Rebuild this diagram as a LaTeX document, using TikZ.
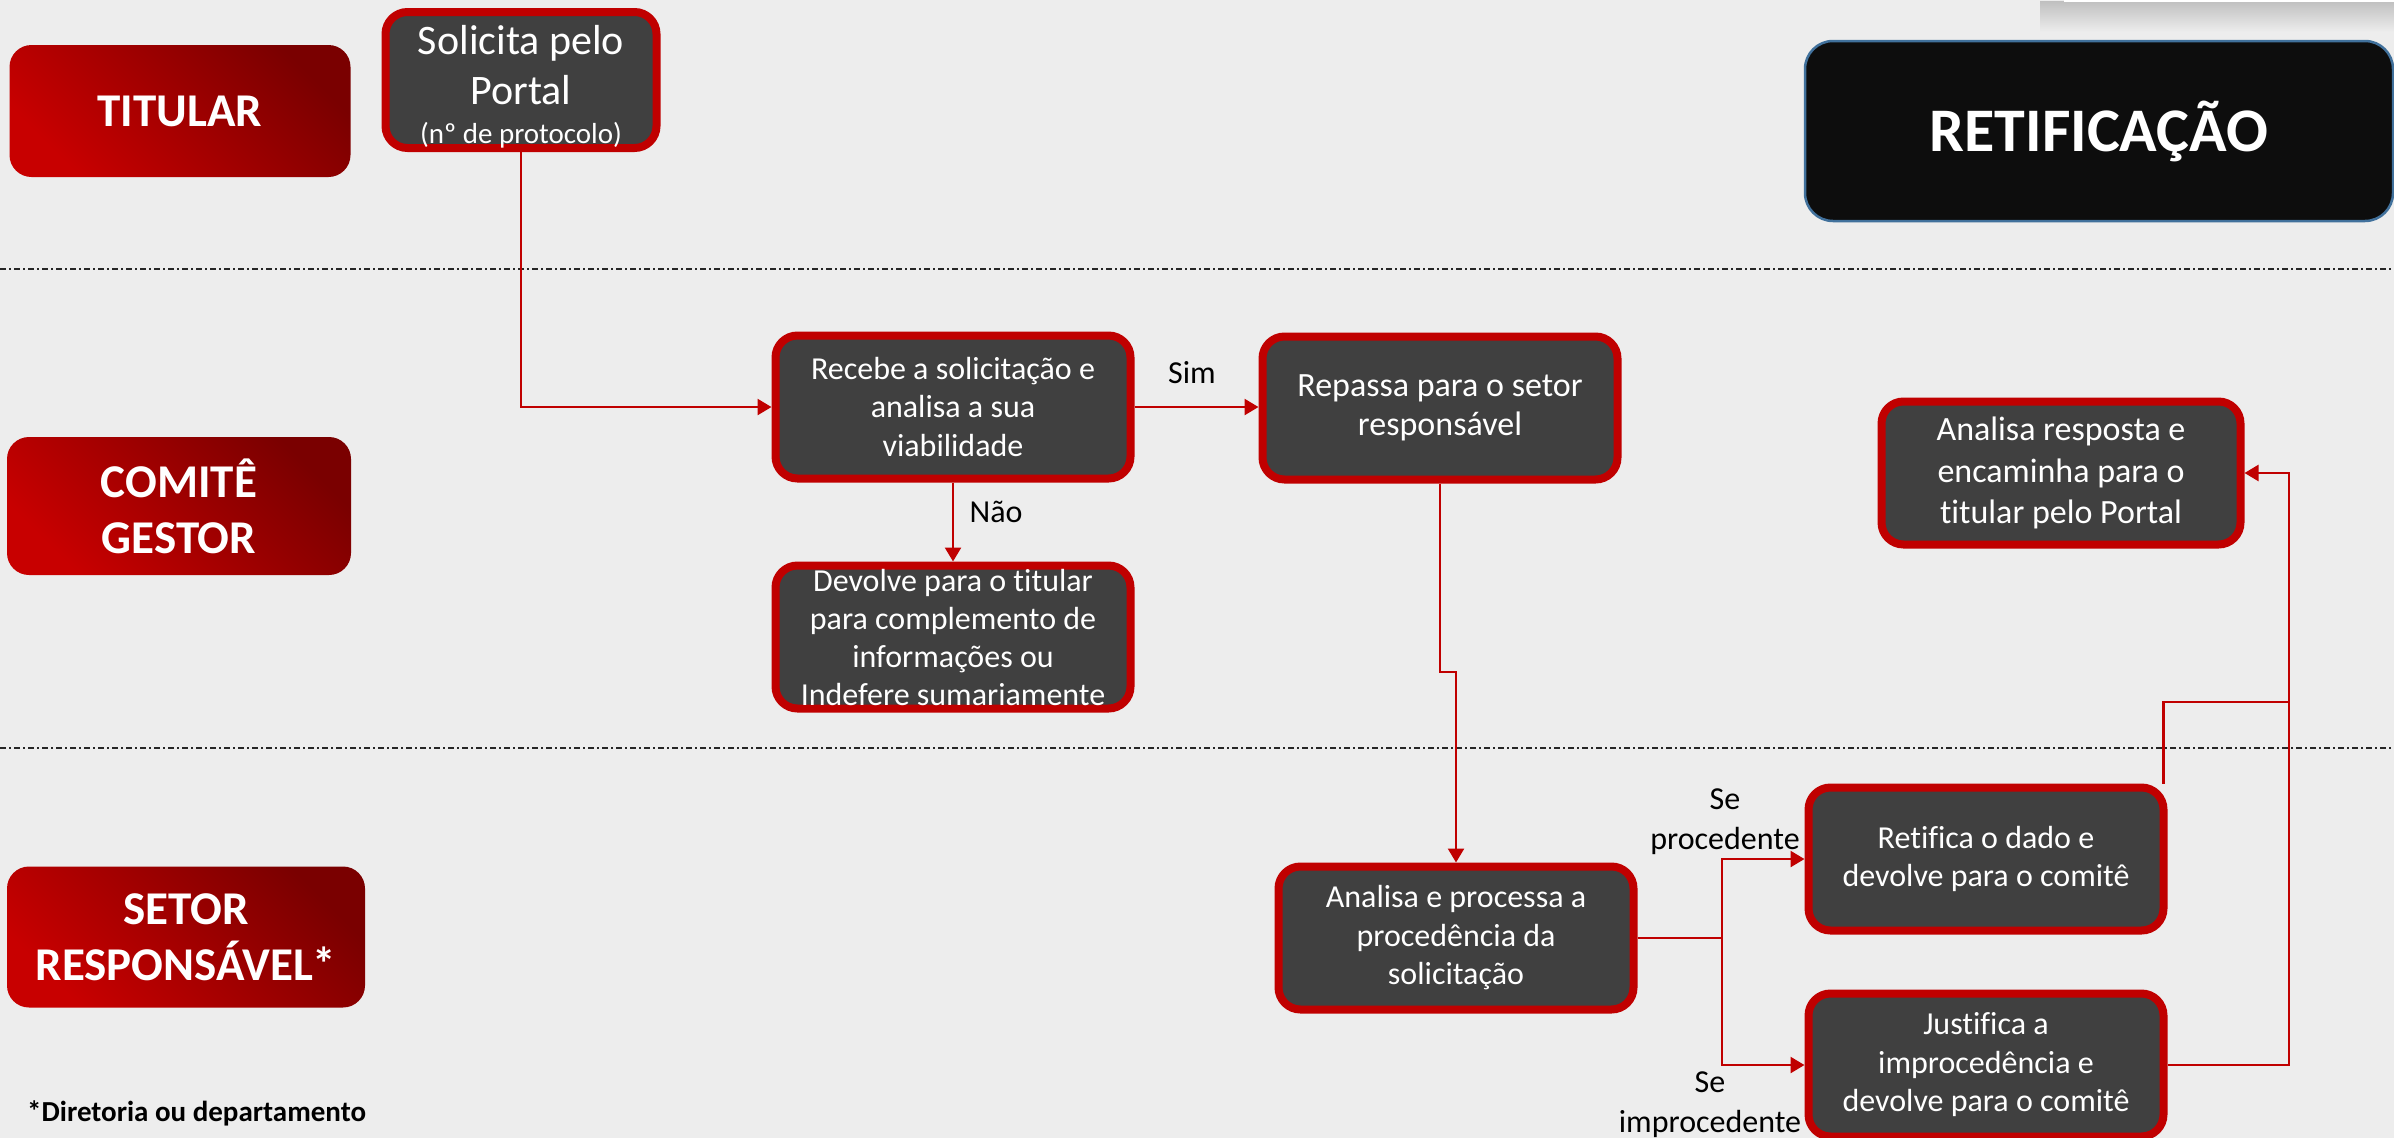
\documentclass[tikz,border=0pt]{standalone}
\usepackage{fontspec}
\setmainfont{Carlito}[Ligatures=NoCommon]
\usetikzlibrary{arrows.meta}
\definecolor{bg}{HTML}{EDEDED}
\definecolor{boxred}{HTML}{C00000}
\definecolor{boxgray}{HTML}{404040}
\definecolor{lanered}{HTML}{C80000}
\definecolor{lanedark}{HTML}{7A0000}
\definecolor{titleblue}{HTML}{41719C}
\definecolor{titleblack}{HTML}{0D0D0D}
\tikzset{
  proc/.style={draw=boxred, line width=8pt, fill=boxgray, rounded corners=22pt,
    text=white, align=center, inner sep=0pt,
    minimum width=355pt, minimum height=143pt,
    font=\fontsize{32}{38.5}\selectfont},
  lanebox/.style={rounded corners=22pt, top color=lanedark, bottom color=lanered,
    shading angle=-45, text=white, align=center, inner sep=0pt,
    font=\bfseries\fontsize{47}{56}\selectfont},
  conn/.style={draw=boxred, line width=2.5pt, -{Triangle[length=14pt,width=16pt]}},
  plainconn/.style={draw=boxred, line width=2.5pt},
  lbl/.style={text=black, align=center, inner sep=0pt, font=\fontsize{32}{40}\selectfont},
  laneline/.style={draw=black!85, line width=1.5pt, dash pattern=on 6pt off 3pt on 2pt off 3pt}
}
\begin{document}
\begin{tikzpicture}[x=1pt,y=-1pt]
\fill[bg] (0,0) rectangle (2394,1138);
\useasboundingbox (0,0) rectangle (2394,1138);
% top-right cut-off element with shadow
\shade[top color=black!25, bottom color=bg] (2040,1) rectangle (2394,32);
\fill[white] (2064,-5) rectangle (2394,1.5);
% lane separators
\draw[laneline] (0,269) -- (2394,269);
\draw[laneline] (0,748) -- (2394,748);
% lane labels
\node[lanebox, minimum width=341pt, minimum height=132pt] (titular) at (180,111) {TITULAR};
\node[lanebox, minimum width=344pt, minimum height=138pt] (comite) at (179,506) {COMITÊ\\GESTOR};
\node[lanebox, minimum width=358pt, minimum height=141pt] (setor) at (186,937) {SETOR\\RESPONSÁVEL*};
\node[text=black, inner sep=0pt, anchor=west, font=\bfseries\fontsize{29}{35}\selectfont] (nota) at (27,1113) {*Diretoria ou departamento};
% title
\node[draw=titleblue, line width=2.5pt, fill=titleblack, rounded corners=28pt,
  minimum width=588pt, minimum height=180pt, inner sep=0pt, text=white,
  font=\bfseries\fontsize{62}{70}\selectfont] (title) at (2099,131) {RETIFICAÇÃO};
% process boxes
\node[proc, minimum width=271pt, minimum height=136pt] (sol) at (521,80) {};
\node[text=white, align=center, inner sep=0pt, font=\fontsize{42}{50}\selectfont] (soltxt) at (521,87)
  {Solicita pelo\\Portal\\[-11pt]{\fontsize{29}{35}\selectfont (nº de protocolo)}};
\node[proc] (recv) at (953,407) {Recebe a solicitação e\\analisa a sua\\viabilidade};
\node[proc, font=\fontsize{34}{38.5}\selectfont] (rep) at (1440,408) {Repassa para o setor\\responsável};
\node[proc, font=\fontsize{32}{38}\selectfont] (dev) at (953,637) {Devolve para o titular\\para complemento de\\informações ou\\Indefere sumariamente};
\node[proc, minimum width=359pt, font=\fontsize{34}{41.7}\selectfont] (ares) at (2061,473) {Analisa resposta e\\encaminha para o\\titular pelo Portal};
\node[proc] (ana) at (1456,938) {Analisa e processa a\\procedência da\\solicitação};
\node[proc] (ret) at (1986,859) {Retifica o dado e\\devolve para o comitê};
\node[proc] (jus) at (1986,1065) {Justifica a\\improcedência e\\devolve para o comitê};
% connectors
\draw[conn] (sol.south) |- (recv.west);
\draw[conn] (recv.east) -- (recv.east -| rep.west);
\node[lbl] (sim) at (1192,373) {Sim};
\draw[conn] (recv.south) -- (dev.north);
\node[lbl] (nao) at (996,512) {Não};
\coordinate (jog) at (1440,672);
\draw[conn] (rep.south) -- (jog) -- (jog -| ana.north) -- (ana.north);
\coordinate (split) at (1722,938);
\draw[plainconn] (ana.east) -- (split);
\draw[conn] (split) |- (ret.west);
\draw[conn] (split) |- (jus.west);
\node[lbl] (sep) at (1725,822) {Se\\procedente};
\node[lbl] (sei) at (1710,1105) {Se\\improcedente};
\coordinate (join) at (2289,702);
\draw[plainconn] ([xshift=-4pt]ret.north east) |- (join);
\draw[conn] (jus.east) -| (join) |- (ares.east);
\end{tikzpicture}
\end{document}
